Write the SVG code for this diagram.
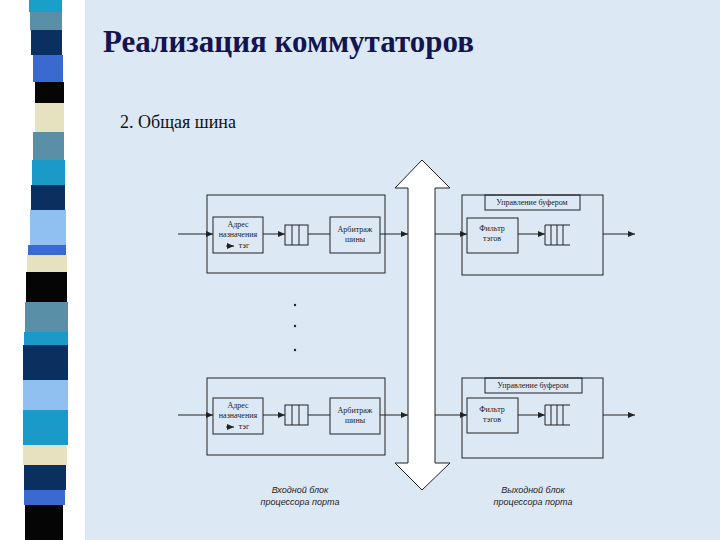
<svg xmlns="http://www.w3.org/2000/svg" width="720" height="540" viewBox="0 0 720 540">
<defs>
<style>
.b{fill:none;stroke:#222;stroke-width:1}
.l{stroke:#222;stroke-width:1;fill:none}
.t{font-family:"Liberation Serif",serif;font-size:8px;fill:#222;text-anchor:middle}
.c{font-family:"Liberation Sans",sans-serif;font-size:9px;font-style:italic;fill:#222;text-anchor:middle}
.h{font-family:"Liberation Serif","DejaVu Serif",serif;font-size:31px;font-weight:bold;fill:#141450}
.s{font-family:"Liberation Serif","DejaVu Serif",serif;font-size:18px;fill:#111}
</style>
<marker id="a" markerWidth="8" markerHeight="6" refX="7" refY="3" orient="auto" markerUnits="userSpaceOnUse"><path d="M0,0L7,3L0,6z" fill="#222"/></marker>
</defs>
<rect width="720" height="540" fill="#fff"/>
<rect x="85" y="0" width="635" height="540" fill="#dde8f5"/>
<g id="stripe">
<rect x="29" y="0" width="33" height="12" fill="#1aa0c8"/>
<rect x="30" y="12" width="32" height="18" fill="#5a8fa8"/>
<rect x="31" y="30" width="31" height="25" fill="#0a3060"/>
<rect x="33" y="55" width="30" height="27" fill="#3a6ad0"/>
<rect x="35" y="82" width="29" height="21" fill="#050505"/>
<rect x="35" y="103" width="29" height="29" fill="#e6e2c0"/>
<rect x="33" y="132" width="31" height="28" fill="#5a8fa8"/>
<rect x="32" y="160" width="33" height="25" fill="#1a9ac8"/>
<rect x="31" y="185" width="34" height="25" fill="#0a3060"/>
<rect x="30" y="210" width="36" height="35" fill="#90c0f0"/>
<rect x="28" y="245" width="38" height="10" fill="#3a6ad0"/>
<rect x="27" y="255" width="40" height="17" fill="#e6e2c0"/>
<rect x="26" y="272" width="41" height="30" fill="#050505"/>
<rect x="25" y="302" width="43" height="30" fill="#5a8fa8"/>
<rect x="24" y="332" width="44" height="13" fill="#1a9ac8"/>
<rect x="23" y="345" width="45" height="35" fill="#0a3060"/>
<rect x="23" y="380" width="45" height="30" fill="#90c0f0"/>
<rect x="23" y="410" width="45" height="35" fill="#1a9ac8"/>
<rect x="23" y="445" width="44" height="20" fill="#e6e2c0"/>
<rect x="24" y="465" width="42" height="25" fill="#0a3060"/>
<rect x="24" y="490" width="41" height="15" fill="#3a6ad0"/>
<rect x="25" y="505" width="38" height="35" fill="#050505"/>
</g>
<text class="h" x="103" y="52">Реализация коммутаторов</text>
<text class="s" x="120" y="128">2. Общая шина</text>
<g id="bus"><path d="M422,160L450,188H435V463H450L422,490L395,463H408V188H395z" fill="#fff" stroke="#222"/></g>
<g id="in1">
<rect class="b" x="207" y="195" width="178" height="78"/>
<rect class="b" x="213" y="217" width="50" height="36"/>
<text class="t" x="238" y="227">Адрес</text><text class="t" x="238" y="237">назначения</text><text class="t" x="244" y="248">тэг</text>
<rect class="b" x="285" y="225" width="23" height="20"/>
<path class="l" d="M292,225V245M299,225V245"/>
<rect class="b" x="330" y="217" width="50" height="36"/>
<text class="t" x="355" y="232">Арбитраж</text><text class="t" x="355" y="242">шины</text>
</g>
<g id="out1">
<rect class="b" x="462" y="195" width="141" height="80"/>
<rect class="b" x="485" y="195" width="95" height="15"/>
<text class="t" x="532" y="205">Управление буфером</text>
<rect class="b" x="467" y="218" width="51" height="35"/>
<text class="t" x="492" y="231">Фильтр</text><text class="t" x="492" y="241">тэгов</text>
<path class="l" d="M545,225H570M545,245H570M545,225V245M551,225V245M557,225V245M563,225V245"/>
</g>
<g id="in2">
<rect class="b" x="207" y="378" width="178" height="77"/>
<rect class="b" x="213" y="398" width="50" height="36"/>
<text class="t" x="238" y="408">Адрес</text><text class="t" x="238" y="418">назначения</text><text class="t" x="244" y="429">тэг</text>
<rect class="b" x="285" y="405" width="23" height="20"/>
<path class="l" d="M292,405V425M299,405V425"/>
<rect class="b" x="330" y="398" width="50" height="36"/>
<text class="t" x="355" y="413">Арбитраж</text><text class="t" x="355" y="423">шины</text>
</g>
<g id="out2">
<rect class="b" x="462" y="378" width="141" height="80"/>
<rect class="b" x="485" y="378" width="97" height="15"/>
<text class="t" x="533" y="388">Управление буфером</text>
<rect class="b" x="467" y="398" width="51" height="35"/>
<text class="t" x="492" y="412">Фильтр</text><text class="t" x="492" y="422">тэгов</text>
<path class="l" d="M545,405H570M545,425H570M545,405V425M551,405V425M557,405V425M563,405V425"/>
</g>
<g id="connectors">
<path class="l" d="M178,234H213" marker-end="url(#a)"/>
<path class="l" d="M263,234H285" marker-end="url(#a)"/>
<path class="l" d="M308,234H330"/>
<path class="l" d="M380,234H408" marker-end="url(#a)"/>
<path class="l" d="M435,234H467" marker-end="url(#a)"/>
<path class="l" d="M518,234H545" marker-end="url(#a)"/>
<path class="l" d="M603,234H635" marker-end="url(#a)"/>
<path class="l" d="M226,246H234" marker-end="url(#a)"/>
<path class="l" d="M178,415H213" marker-end="url(#a)"/>
<path class="l" d="M263,415H285" marker-end="url(#a)"/>
<path class="l" d="M308,415H330"/>
<path class="l" d="M380,415H408" marker-end="url(#a)"/>
<path class="l" d="M435,415H467" marker-end="url(#a)"/>
<path class="l" d="M518,415H545" marker-end="url(#a)"/>
<path class="l" d="M603,415H635" marker-end="url(#a)"/>
<path class="l" d="M226,427H234" marker-end="url(#a)"/>
</g>
<g fill="#222"><circle cx="295" cy="305" r="1.2"/><circle cx="295" cy="326" r="1.2"/><circle cx="295" cy="350" r="1.2"/></g>
<text class="c" x="300" y="493">Входной блок</text><text class="c" x="300" y="505">процессора порта</text>
<text class="c" x="533" y="493">Выходной блок</text><text class="c" x="533" y="505">процессора порта</text>
</svg>
